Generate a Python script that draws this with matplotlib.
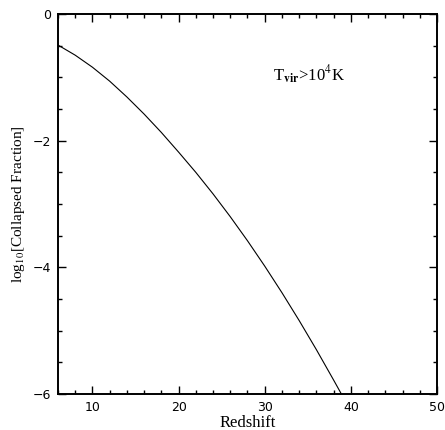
import matplotlib
matplotlib.use("Agg")
import matplotlib.pyplot as plt
from matplotlib.ticker import MultipleLocator

# values
redshift = [6, 8, 10, 12, 14, 16, 18, 20, 22, 24, 26, 28, 30, 32, 34, 36, 38, 38.9]
log_fcoll = [-0.49, -0.65, -0.84, -1.06, -1.31, -1.58, -1.87, -2.18, -2.50, -2.84,
             -3.20, -3.58, -3.98, -4.40, -4.84, -5.30, -5.78, -6.0]

label_txt = r"T$_{\mathbf{vir}}$>10$^4$K"

plt.rcParams["mathtext.fontset"] = "stix"

fig = plt.figure(figsize=(4.45, 4.3), dpi=100)
ax = fig.add_axes([0.1303, 0.0837, 0.8517, 0.8837])

ax.plot(redshift, log_fcoll, color="black", lw=0.8)

ax.set_xlim(6, 50)
ax.set_ylim(-6, 0)
ax.xaxis.set_major_locator(MultipleLocator(10))
ax.xaxis.set_minor_locator(MultipleLocator(2))
ax.yaxis.set_major_locator(MultipleLocator(2))
ax.yaxis.set_minor_locator(MultipleLocator(0.5))
ax.tick_params(which="both", direction="in", top=True, right=True, width=1.0)
ax.tick_params(which="major", length=6, labelsize=9, pad=5)
ax.tick_params(which="minor", length=3)
for s in ax.spines.values():
    s.set_linewidth(1.4)

ax.set_xlabel("Redshift", family="Liberation Serif", fontsize=12, labelpad=1)
ax.set_ylabel(r"log$_{10}$[Collapsed Fraction]", family="Liberation Serif", fontsize=11, labelpad=4)

ax.text(35.2, -0.96, label_txt, family="Liberation Serif", fontsize=12,
        ha="center", va="center")

fig.savefig("out.png", dpi=100)
plt.close(fig)
